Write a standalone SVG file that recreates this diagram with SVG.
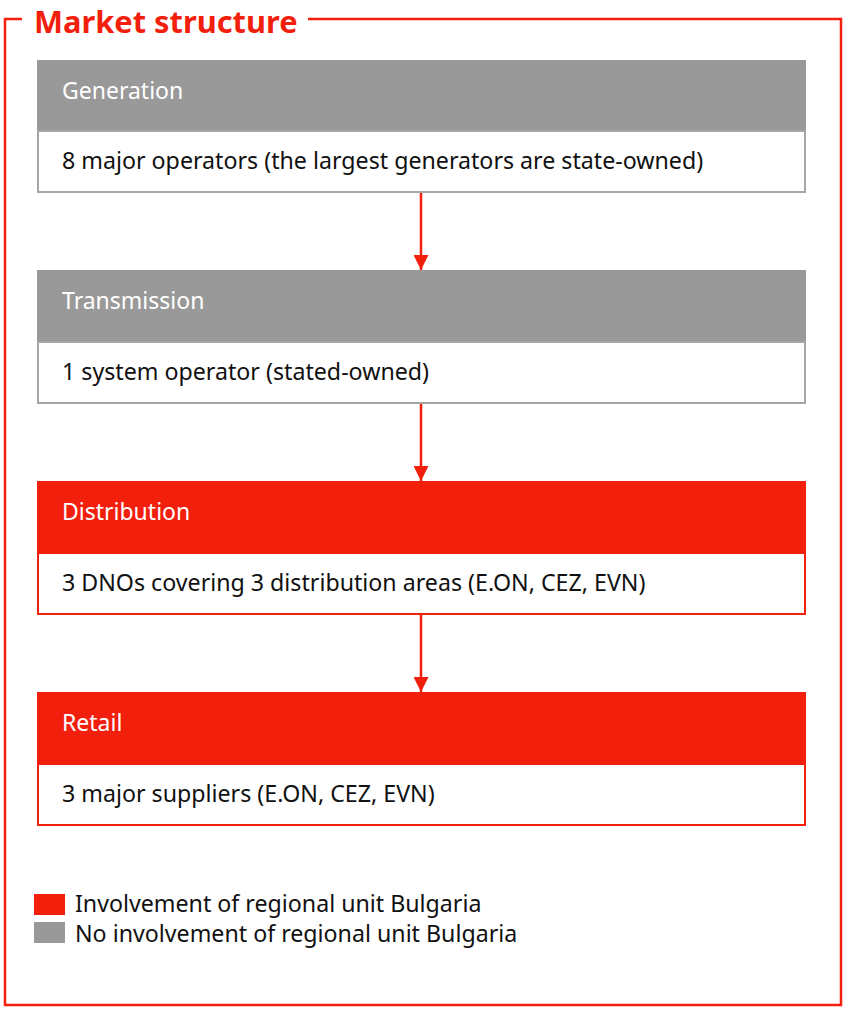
<svg xmlns="http://www.w3.org/2000/svg" width="844" height="1009" viewBox="0 0 844 1009">
<style>
.frame{fill:none;stroke:#f21f0c;stroke-width:2.5}
.hg{fill:#999999}
.hr{fill:#f21f0c}
.body{fill:#ffffff;stroke:#a6a6a6;stroke-width:2}
.bodyr{fill:#ffffff;stroke:#f21f0c;stroke-width:2}
.ht{font-family:"Noto Sans",sans-serif;font-size:23px;fill:#ffffff}
.bt{font-family:"Noto Sans",sans-serif;font-size:23.2px;fill:#111111}
.title{font-family:"Noto Sans",sans-serif;font-size:30.8px;font-weight:bold;fill:#f21f0c}
.conn{stroke:#f21f0c;stroke-width:2.5;fill:none}
</style>
<defs>
<marker id="ah" viewBox="0 0 10 10" refX="10" refY="5" markerWidth="6" markerHeight="6" orient="auto" markerUnits="strokeWidth">
<path d="M0,0 L10,5 L0,10 z" fill="#f21f0c"/>
</marker>
</defs>
<path class="frame" d="M22,19 H5 V1005 H841 V19 H308"/>
<text class="title" x="34" y="33">Market structure</text>
<g id="generation">
<rect class="hg" x="37" y="60" width="769" height="71"/>
<rect class="body" x="38" y="131" width="767" height="61"/>
<text class="ht" x="62" y="99">Generation</text>
<text class="bt" x="62" y="169">8 major operators (the largest generators are state-owned)</text>
</g>
<g id="transmission">
<rect class="hg" x="37" y="270" width="769" height="72"/>
<rect class="body" x="38" y="342" width="767" height="61"/>
<text class="ht" x="62" y="309">Transmission</text>
<text class="bt" x="62" y="380">1 system operator (stated-owned)</text>
</g>
<g id="distribution">
<rect class="hr" x="37" y="481" width="769" height="72"/>
<rect class="bodyr" x="38" y="553" width="767" height="61"/>
<text class="ht" x="62" y="520">Distribution</text>
<text class="bt" x="62" y="591">3 DNOs covering 3 distribution areas (E.ON, CEZ, EVN)</text>
</g>
<g id="retail">
<rect class="hr" x="37" y="692" width="769" height="72"/>
<rect class="bodyr" x="38" y="764" width="767" height="61"/>
<text class="ht" x="62" y="731">Retail</text>
<text class="bt" x="62" y="802">3 major suppliers (E.ON, CEZ, EVN)</text>
</g>
<g id="connectors">
<line class="conn" x1="421" y1="193" x2="421" y2="270" marker-end="url(#ah)"/>
<line class="conn" x1="421" y1="404" x2="421" y2="481" marker-end="url(#ah)"/>
<line class="conn" x1="421" y1="615" x2="421" y2="692" marker-end="url(#ah)"/>
</g>
<g id="legend">
<rect class="hr" x="34" y="894" width="31" height="21"/>
<text class="bt" x="75" y="912">Involvement of regional unit Bulgaria</text>
<rect class="hg" x="34" y="922" width="31" height="21"/>
<text class="bt" x="75" y="942">No involvement of regional unit Bulgaria</text>
</g>
</svg>
